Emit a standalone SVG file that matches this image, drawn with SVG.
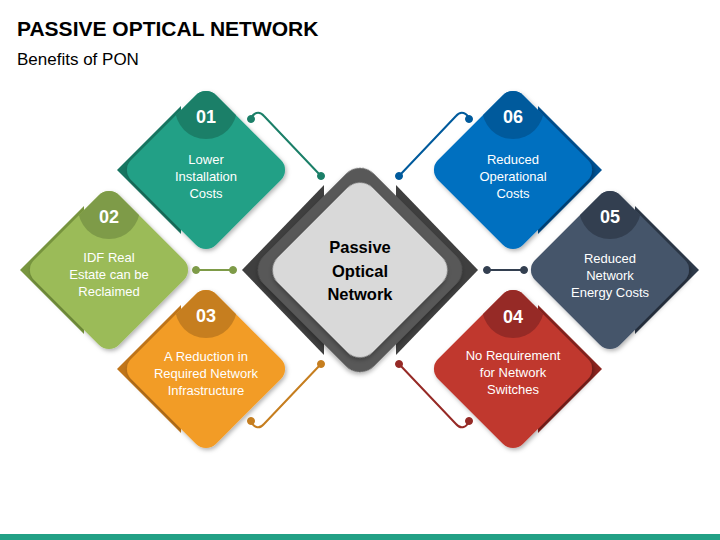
<svg xmlns="http://www.w3.org/2000/svg" width="720" height="540" viewBox="0 0 720 540">
<style>
.title{font-family:"Liberation Sans",Arial,sans-serif;font-weight:bold;font-size:21px;fill:#000}
.sub{font-family:"Liberation Sans",Arial,sans-serif;font-size:17px;fill:#000}
.num{font-family:"Liberation Sans",Arial,sans-serif;font-weight:bold;font-size:18px;fill:#fff;text-anchor:middle}
.lbl{font-family:"Liberation Sans",Arial,sans-serif;font-size:13px;fill:#fff;text-anchor:middle}
.ctr{font-family:"Liberation Sans",Arial,sans-serif;font-weight:bold;font-size:16.5px;fill:#000;text-anchor:middle}
.conn{fill:none;stroke-width:2}
</style>
<defs>
<filter id="sh" x="-20%" y="-20%" width="140%" height="140%">
<feDropShadow dx="1.5" dy="2" stdDeviation="2" flood-color="#000" flood-opacity="0.3"/>
</filter>
<clipPath id="dclip"><rect x="-60" y="-60" width="120" height="120" rx="14" transform="rotate(45)"/></clipPath>
<polygon id="backL" points="-25,-64 -89,0 -25,64"/>
<polygon id="backR" points="25,-64 89,0 25,64"/>
<rect id="dia" x="-60" y="-60" width="120" height="120" rx="14" transform="rotate(45)"/>
</defs>
<rect width="720" height="540" fill="#fff"/>
<text class="title" x="17" y="36">PASSIVE OPTICAL NETWORK</text>
<text class="sub" x="17" y="65">Benefits of PON</text>
<g id="connectors">
<g stroke="#1B7F68" fill="#1B7F68"><path class="conn" d="M251,119 C253,113 259,110 264,116 L321,176"/><circle cx="251" cy="119" r="3.5"/><circle cx="321" cy="176" r="3.5"/></g>
<g stroke="#005A9C" fill="#005A9C"><path class="conn" d="M469,119 C467,113 461,110 456,116 L399,176"/><circle cx="469" cy="119" r="3.5"/><circle cx="399" cy="176" r="3.5"/></g>
<g stroke="#7E9B48" fill="#7E9B48"><path class="conn" d="M196,270 L233,270"/><circle cx="196" cy="270" r="3.5"/><circle cx="233" cy="270" r="3.5"/></g>
<g stroke="#333F50" fill="#333F50"><path class="conn" d="M487,270 L524,270"/><circle cx="487" cy="270" r="3.5"/><circle cx="524" cy="270" r="3.5"/></g>
<g stroke="#C67E1F" fill="#C67E1F"><path class="conn" d="M251,421 C253,427 259,430 264,424 L321,364"/><circle cx="251" cy="421" r="3.5"/><circle cx="321" cy="364" r="3.5"/></g>
<g stroke="#962A26" fill="#962A26"><path class="conn" d="M469,421 C467,427 461,430 456,424 L399,364"/><circle cx="469" cy="421" r="3.5"/><circle cx="399" cy="364" r="3.5"/></g>
</g>
<g id="center" transform="translate(360,270)">
<polygon points="-36,-85 -118,0 -36,85" fill="#3F3F3F"/>
<polygon points="36,-85 118,0 36,85" fill="#3F3F3F"/>
<rect x="-78" y="-78" width="156" height="156" rx="20" transform="rotate(45)" fill="#595959" filter="url(#sh)"/>
<rect x="-67" y="-67" width="134" height="134" rx="18" transform="rotate(45)" fill="#D9D9D9" filter="url(#sh)"/>
<text class="ctr" x="0" y="-17">Passive</text>
<text class="ctr" x="0" y="7">Optical</text>
<text class="ctr" x="0" y="30">Network</text>
</g>
<g id="node01" transform="translate(206,170)">
<use href="#backL" fill="#177561"/>
<use href="#dia" fill="#21A086" filter="url(#sh)"/>
<circle cx="0" cy="-62" r="31" fill="#1B7F68" clip-path="url(#dclip)"/>
<text class="num" x="0" y="-47">01</text>
<text class="lbl" x="0" y="-6">Lower</text>
<text class="lbl" x="0" y="11">Installation</text>
<text class="lbl" x="0" y="28">Costs</text>
</g>
<g id="node02" transform="translate(109,270)">
<use href="#backL" fill="#78963F"/>
<use href="#dia" fill="#9BBB59" filter="url(#sh)"/>
<circle cx="0" cy="-62" r="31" fill="#7E9B48" clip-path="url(#dclip)"/>
<text class="num" x="0" y="-47">02</text>
<text class="lbl" x="0" y="-8">IDF Real</text>
<text class="lbl" x="0" y="9">Estate can be</text>
<text class="lbl" x="0" y="26">Reclaimed</text>
</g>
<g id="node03" transform="translate(206,369)">
<use href="#backL" fill="#C0751A"/>
<use href="#dia" fill="#F29C26" filter="url(#sh)"/>
<circle cx="0" cy="-62" r="31" fill="#C67E1F" clip-path="url(#dclip)"/>
<text class="num" x="0" y="-47">03</text>
<text class="lbl" x="0" y="-8">A Reduction in</text>
<text class="lbl" x="0" y="9">Required Network</text>
<text class="lbl" x="0" y="26">Infrastructure</text>
</g>
<g id="node06" transform="translate(513,170)">
<use href="#backR" fill="#005294"/>
<use href="#dia" fill="#0070C0" filter="url(#sh)"/>
<circle cx="0" cy="-62" r="31" fill="#005A9C" clip-path="url(#dclip)"/>
<text class="num" x="0" y="-47">06</text>
<text class="lbl" x="0" y="-6">Reduced</text>
<text class="lbl" x="0" y="11">Operational</text>
<text class="lbl" x="0" y="28">Costs</text>
</g>
<g id="node05" transform="translate(610,270)">
<use href="#backR" fill="#2E3A4A"/>
<use href="#dia" fill="#44546A" filter="url(#sh)"/>
<circle cx="0" cy="-62" r="31" fill="#333F50" clip-path="url(#dclip)"/>
<text class="num" x="0" y="-47">05</text>
<text class="lbl" x="0" y="-7">Reduced</text>
<text class="lbl" x="0" y="10">Network</text>
<text class="lbl" x="0" y="27">Energy Costs</text>
</g>
<g id="node04" transform="translate(513,369)">
<use href="#backR" fill="#8B241F"/>
<use href="#dia" fill="#C0392F" filter="url(#sh)"/>
<circle cx="0" cy="-62" r="31" fill="#962A26" clip-path="url(#dclip)"/>
<text class="num" x="0" y="-46">04</text>
<text class="lbl" x="0" y="-9">No Requirement</text>
<text class="lbl" x="0" y="8">for Network</text>
<text class="lbl" x="0" y="25">Switches</text>
</g>
<rect x="0" y="534" width="720" height="6" fill="#22A085"/>
</svg>
